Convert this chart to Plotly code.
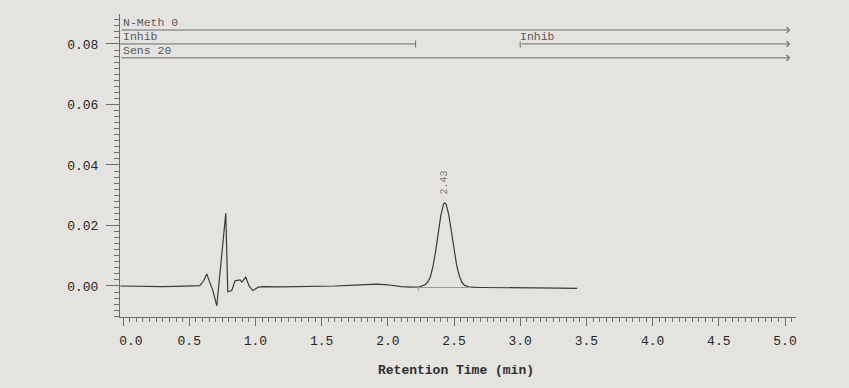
import plotly.graph_objects as go

# ---- data ----
time_min = [-0.02, 0.1, 0.2, 0.3, 0.4, 0.5, 0.58, 0.61, 0.632, 0.655, 0.677, 0.708,
            0.776, 0.791, 0.821, 0.846, 0.884, 0.897, 0.927, 0.952, 0.98, 1.022, 1.06,
            1.2, 1.4, 1.6, 1.75, 1.85, 1.92, 2.0, 2.1, 2.18, 2.24, 2.28, 2.30, 2.32,
            2.34, 2.36, 2.38, 2.40, 2.42, 2.43, 2.44, 2.46, 2.48, 2.50, 2.52, 2.54,
            2.56, 2.58, 2.62, 2.7, 2.9, 3.1, 3.3, 3.43]
signal = [0.0, -0.0001, 0.0, -0.0002, -0.0001, 0.0, 0.0001, 0.0018, 0.004, 0.0012,
          -0.0013, -0.0066, 0.024, -0.0019, -0.0015, 0.0017, 0.002, 0.0013, 0.0029,
          0.0, -0.0015, -0.0004, -0.0002, -0.0003, -0.0002, 0.0, 0.0003, 0.0005,
          0.0006, 0.0004, -0.0002, -0.0004, -0.0003, 0.0004, 0.0012, 0.0029, 0.0062,
          0.0112, 0.0172, 0.0232, 0.0270, 0.0275, 0.0271, 0.0236, 0.0180, 0.0120,
          0.0068, 0.0033, 0.0012, 0.0002, -0.0004, -0.0005, -0.0005, -0.0006,
          -0.0007, -0.0008]

peak_time = 2.43
peak_height = 0.0275
peak_label = "2.43"
baseline_x = [2.23, 2.63]
baseline_y = [-0.0005, -0.0005]

# timed events: label, start, end, level, end style
event_labels = ["N-Meth 0", "Inhib", "Inhib", "Sens 20"]
event_start = [-0.023, -0.023, 3.0, -0.023]
event_end = [5.04, 2.21, 5.04, 5.04]
event_level = [0.0846, 0.080, 0.080, 0.0754]
event_arrow = [True, False, True, True]

x_tickvals = [0.0, 0.5, 1.0, 1.5, 2.0, 2.5, 3.0, 3.5, 4.0, 4.5, 5.0]
y_tickvals = [0.00, 0.02, 0.04, 0.06, 0.08]

# ---- figure ----
bg = "#e5e3e0"
ink = "#3a3a3a"
grey = "#6e6e6e"
mono = "Liberation Mono, Courier New, monospace"

fig = go.Figure()
fig.add_trace(go.Scatter(x=time_min, y=signal, mode="lines",
                         line=dict(color=ink, width=1.2), hoverinfo="skip"))
fig.add_trace(go.Scatter(x=baseline_x, y=baseline_y, mode="lines",
                         line=dict(color="#9a9a9a", width=1), hoverinfo="skip"))

annotations = []
shapes = []
for lab, s, e, lv, arr in zip(event_labels, event_start, event_end, event_level, event_arrow):
    if arr:
        annotations.append(dict(x=e, y=lv, ax=s, ay=lv, xref="x", yref="y",
                                axref="x", ayref="y", text="", showarrow=True,
                                arrowhead=4, arrowsize=1.1, arrowwidth=1,
                                arrowcolor=grey))
    else:
        shapes.append(dict(type="line", x0=s, x1=e, y0=lv, y1=lv, xref="x", yref="y",
                           line=dict(color=grey, width=1)))
        shapes.append(dict(type="line", x0=e, x1=e, y0=lv - 0.0012, y1=lv + 0.0012,
                           xref="x", yref="y", line=dict(color=grey, width=1)))
    if s > 0:
        shapes.append(dict(type="line", x0=s, x1=s, y0=lv - 0.0012, y1=lv + 0.0008,
                           xref="x", yref="y", line=dict(color=grey, width=1)))
    annotations.append(dict(x=max(s, 0.0), y=lv, xref="x", yref="y", text=lab,
                            showarrow=False, xanchor="left", yanchor="bottom",
                            xshift=-2, yshift=-1,
                            font=dict(family=mono, size=11.5, color="#5a5a5a")))

# baseline start tick
shapes.append(dict(type="line", x0=baseline_x[0], x1=baseline_x[0],
                   y0=baseline_y[0] - 0.0012, y1=baseline_y[0], xref="x", yref="y",
                   line=dict(color="#9a9a9a", width=1)))

annotations.append(dict(x=peak_time, y=peak_height, xref="x", yref="y",
                        text=peak_label, textangle=-90, showarrow=False,
                        xanchor="center", yanchor="bottom", yshift=6,
                        font=dict(family=mono, size=10, color="#7a7a7a")))

annotations.append(dict(x=0.5, y=0, xref="paper", yref="paper",
                        text="<b>Retention Time (min)</b>", showarrow=False,
                        xanchor="center", yanchor="top", yshift=-44, xshift=-2,
                        font=dict(family=mono, size=13, color="#2e2e2e")))

x_ticktext = [f"{v:.1f}" for v in x_tickvals]
x_ticktext[0] = "\u00a0\u00a0" + x_ticktext[0]

fig.update_layout(
    width=849, height=388,
    margin=dict(l=120, r=53, t=14, b=71),
    paper_bgcolor=bg, plot_bgcolor=bg,
    showlegend=False,
    annotations=annotations, shapes=shapes,
    xaxis=dict(range=[-0.023, 5.083], showgrid=False, zeroline=False,
               showline=True, linecolor=grey, linewidth=1,
               ticks="outside", ticklen=8, tickcolor=grey,
               tickvals=x_tickvals, ticktext=x_ticktext,
               ticklabelstandoff=3,
               tickfont=dict(family=mono, size=13, color="#262626"),
               minor=dict(dtick=0.05, tick0=0, ticks="outside", ticklen=4,
                          tickcolor=grey, showgrid=False)),
    yaxis=dict(range=[-0.01025, 0.0899], showgrid=False, zeroline=False,
               showline=True, linecolor=grey, linewidth=1,
               ticks="outside", ticklen=13, tickcolor=grey,
               tickvals=y_tickvals, ticktext=[f"{v:.2f}" for v in y_tickvals],
               ticklabelstandoff=5,
               tickfont=dict(family=mono, size=13, color="#262626"),
               minor=dict(dtick=0.002, tick0=0, ticks="outside", ticklen=5,
                          tickcolor=grey, showgrid=False)),
)

fig.write_html("out.html")
